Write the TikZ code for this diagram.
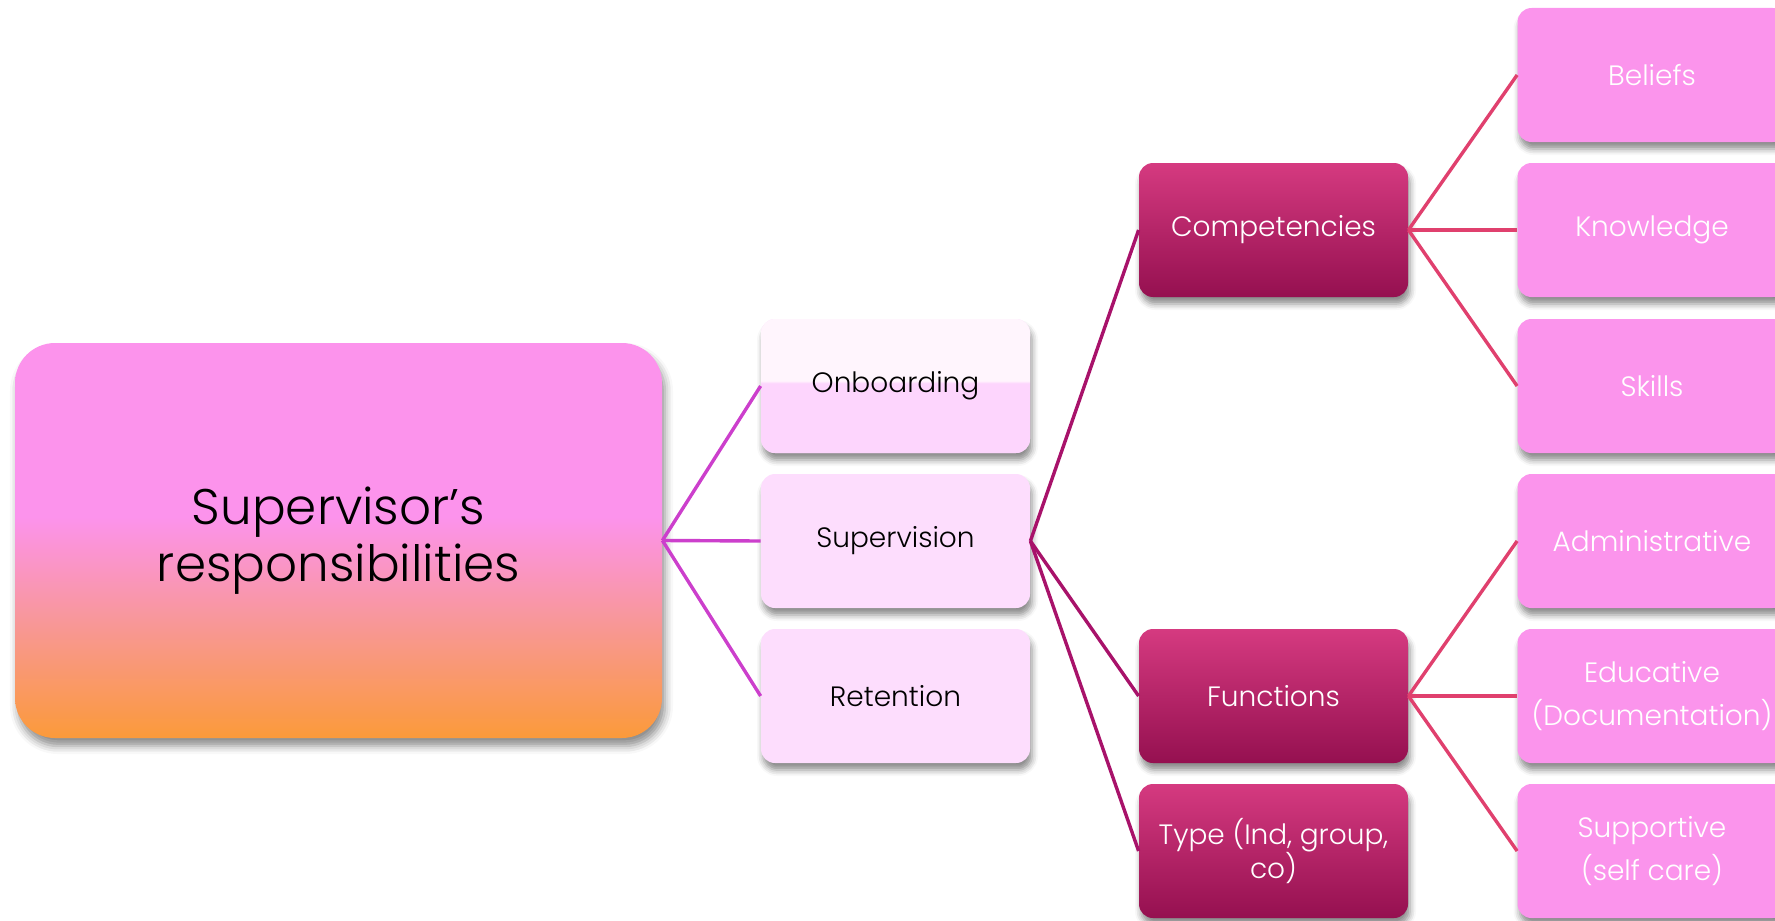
\documentclass[tikz,border=0pt]{standalone}
\usepackage{fontspec}
\IfFontExistsTF{Poppins Light}{\setmainfont{Poppins Light}}{\setmainfont{Poppins}}
\usetikzlibrary{shadows.blur}
\definecolor{rootpink}{HTML}{FC93EC}
\definecolor{rootsalmon}{HTML}{F8979A}
\definecolor{rootorange}{HTML}{FB9A3A}
\definecolor{lvtwo}{HTML}{FDDDFD}
\definecolor{onbtop}{HTML}{FFF5FD}
\definecolor{onbbot}{HTML}{FDD5FD}
\definecolor{lvthreetop}{HTML}{D53A80}
\definecolor{lvthreebot}{HTML}{951050}
\definecolor{lvfour}{HTML}{FB94EC}
\definecolor{linea}{HTML}{CC3FCC}
\definecolor{lineb}{HTML}{A8126A}
\definecolor{linec}{HTML}{E0406E}
\pgfdeclareverticalshading{rootshade}{100bp}{color(0bp)=(rootorange); color(25bp)=(rootorange); color(40bp)=(rootsalmon); color(53bp)=(rootpink); color(100bp)=(rootpink)}
\pgfdeclareverticalshading{onbshade}{100bp}{color(0bp)=(onbbot); color(51bp)=(onbbot); color(52bp)=(onbtop); color(100bp)=(onbtop)}
\tikzset{
  box/.style={rounded corners=7pt, minimum width=134.5pt, minimum height=67pt, align=center, inner sep=0pt,
    blur shadow={shadow xshift=1pt, shadow yshift=-3.5pt, shadow blur radius=3pt, shadow opacity=45}},
  lvtwobox/.style={box, fill=lvtwo, text=black, font=\fontsize{14}{21}\selectfont},
  lvthreebox/.style={box, top color=lvthreetop, bottom color=lvthreebot, text=white, font=\fontsize{14}{17}\selectfont},
  lvfourbox/.style={box, fill=lvfour, text=white, font=\fontsize{14}{21.5}\selectfont},
  rootbox/.style={rounded corners=20pt, minimum width=323.5pt, minimum height=197.5pt, align=center, inner sep=0pt,
    shading=rootshade, text=black, font=\fontsize{25}{28.5}\selectfont,
    blur shadow={shadow xshift=1.5pt, shadow yshift=-4pt, shadow blur radius=4pt, shadow opacity=45}},
  conn/.style={line width=1.7pt}
}
\begin{document}
\begin{tikzpicture}[x=0.5pt,y=-0.5pt]
\useasboundingbox (0,0) rectangle (1775,920);
\node[rootbox] (root) at (338.5,540.5) {Supervisor’s\\responsibilities};
\node[lvtwobox, shading=onbshade] (onb) at (895.5,386) {Onboarding};
\node[lvtwobox] (sup) at (895.5,541) {Supervision};
\node[lvtwobox] (ret) at (895.5,696) {Retention};
\node[lvthreebox] (comp) at (1273.5,230) {Competencies};
\node[lvthreebox] (func) at (1273.5,696) {Functions};
\node[lvthreebox] (type) at (1273.5,851) {Type (Ind, group,\\co)};
\node[lvfourbox] (bel) at (1652,75) {Beliefs};
\node[lvfourbox] (know) at (1652,230) {Knowledge};
\node[lvfourbox] (skill) at (1652,386) {Skills};
\node[lvfourbox] (admin) at (1652,541) {Administrative};
\node[lvfourbox] (educ) at (1652,696) {Educative\\(Documentation)};
\node[lvfourbox] (supp) at (1652,851) {Supportive\\(self care)};
\foreach \t in {onb,sup,ret} \draw[conn, linea] (root.east) -- (\t.west);
\foreach \t in {comp,func,type} \draw[conn, lineb] (sup.east) -- (\t.west);
\foreach \t in {bel,know,skill} \draw[conn, linec] (comp.east) -- (\t.west);
\foreach \t in {admin,educ,supp} \draw[conn, linec] (func.east) -- (\t.west);
\end{tikzpicture}
\end{document}
